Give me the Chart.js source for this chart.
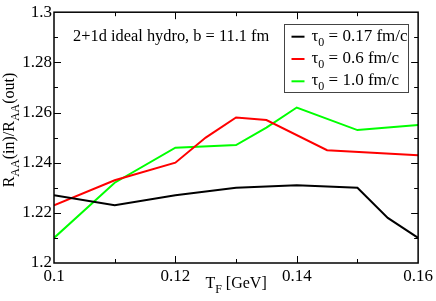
<!DOCTYPE html>
<html>
<head>
<meta charset="utf-8">
<script src="https://cdn.jsdelivr.net/npm/chart.js@4"></script>
<style>
  html, body { margin: 0; padding: 0; background: #fff; }
  #wrap { width: 436px; height: 301px; }
</style>
</head>
<body>
<div id="wrap"><canvas id="chart" width="436" height="301"></canvas></div>
<script>
// data
const tempBlack = [0.10, 0.11, 0.12, 0.13, 0.14, 0.15, 0.155, 0.16]
const ratioBlack = [1.227, 1.223, 1.227, 1.230, 1.231, 1.230, 1.218, 1.210]

const tempRed = [0.10, 0.11, 0.12, 0.125, 0.13, 0.135, 0.145, 0.16]
const ratioRed = [1.223, 1.233, 1.240, 1.250, 1.258, 1.257, 1.245, 1.243]

const tempGreen = [0.10, 0.11, 0.12, 0.13, 0.135, 0.14, 0.15, 0.16]
const ratioGreen = [1.210, 1.232, 1.246, 1.247, 1.254, 1.262, 1.253, 1.255]

const seriesTau = ["0.17", "0.6", "1.0"]
const seriesColors = ["#000000", "#ff0000", "#00ff00"]

const xTicks = [0.10, 0.12, 0.14, 0.16]
const yTicks = [1.20, 1.22, 1.24, 1.26, 1.28, 1.30]

const FONT = "'Liberation Serif', 'Times New Roman', serif"

function toPoints(xs, ys) {
  return xs.map((x, i) => ({ x: x, y: ys[i] }))
}

// draw text made of pieces, some of them subscripts
function drawRich(ctx, parts, x, y, size, align) {
  const subSize = Math.round(size * 0.72)
  let total = 0
  parts.forEach(p => {
    ctx.font = (p.sub ? subSize : size) + "px " + FONT
    p.w = ctx.measureText(p.t).width
    total += p.w
  })
  let cx = align === "center" ? x - total / 2 : x
  parts.forEach(p => {
    ctx.font = (p.sub ? subSize : size) + "px " + FONT
    ctx.fillText(p.t, cx, p.sub ? y + size * 0.3 : y)
    cx += p.w
  })
}

const decorPlugin = {
  id: "decor",
  afterDraw(chart) {
    const ctx = chart.ctx
    const a = chart.chartArea
    const xs = chart.scales.x
    const ys = chart.scales.y
    ctx.save()

    // inward tick marks on all four sides
    ctx.strokeStyle = "#000"
    ctx.lineWidth = 1
    ctx.beginPath()
    for (let i = 1; i < 10; i++) {
      const py = Math.round(ys.getPixelForValue(1.2 + i * 0.01)) + 0.5
      const len = i % 2 === 0 ? 7 : 4
      ctx.moveTo(a.left, py); ctx.lineTo(a.left + len, py)
      ctx.moveTo(a.right, py); ctx.lineTo(a.right - len, py)
    }
    for (let i = 1; i < 6; i++) {
      const px = Math.round(xs.getPixelForValue(0.1 + i * 0.01)) + 0.5
      const len = i % 2 === 0 ? 7 : 4
      ctx.moveTo(px, a.bottom); ctx.lineTo(px, a.bottom - len)
      ctx.moveTo(px, a.top); ctx.lineTo(px, a.top + len)
    }
    ctx.stroke()

    // frame
    ctx.lineWidth = 1.5
    ctx.strokeRect(a.left, a.top, a.right - a.left, a.bottom - a.top)

    ctx.fillStyle = "#000"
    ctx.textBaseline = "alphabetic"

    // annotation
    ctx.font = "16.4px " + FONT
    ctx.textAlign = "left"
    ctx.fillText("2+1d ideal hydro, b = 11.1 fm", 73, 41)

    // legend
    const lx = 284.5, ly = 24.5, lw = 124, lh = 68
    ctx.lineWidth = 1
    ctx.strokeStyle = "#444"
    ctx.strokeRect(lx, ly, lw, lh)
    chart.data.datasets.forEach((ds, i) => {
      const cy = 36.7 + i * 22.3
      ctx.strokeStyle = ds.borderColor
      ctx.lineWidth = 2
      ctx.beginPath()
      ctx.moveTo(291.5, cy); ctx.lineTo(304.5, cy)
      ctx.stroke()
      ctx.fillStyle = "#000"
      drawRich(ctx, [
        { t: "\u03c4" },
        { t: "0", sub: true },
        { t: " = " + seriesTau[i] + " fm/c" }
      ], 311.5, cy + 4, 17, "left")
    })

    // axis titles
    ctx.fillStyle = "#000"
    drawRich(ctx, [
      { t: "T" }, { t: "F", sub: true }, { t: " [GeV]" }
    ], (a.left + a.right) / 2, 288, 16, "center")

    ctx.translate(14, 130)
    ctx.rotate(-Math.PI / 2)
    drawRich(ctx, [
      { t: "R" }, { t: "AA", sub: true }, { t: "(in)/R" },
      { t: "AA", sub: true }, { t: "(out)" }
    ], 0, 0, 16, "center")

    ctx.restore()
  }
}

const datasets = [
  toPoints(tempBlack, ratioBlack),
  toPoints(tempRed, ratioRed),
  toPoints(tempGreen, ratioGreen)
].map((pts, i) => ({
  label: "\u03c4\u2080 = " + seriesTau[i] + " fm/c",
  data: pts,
  borderColor: seriesColors[i],
  borderWidth: 2,
  pointRadius: 0,
  tension: 0,
  fill: false
}))

new Chart(document.getElementById("chart"), {
  type: "line",
  data: { datasets: datasets },
  options: {
    responsive: false,
    animation: false,
    devicePixelRatio: 1,
    layout: { padding: { top: 7, right: 16, left: 0, bottom: 0 } },
    plugins: {
      legend: { display: false },
      tooltip: { enabled: false }
    },
    scales: {
      x: {
        type: "linear",
        min: 0.1,
        max: 0.16,
        afterBuildTicks: (scale) => { scale.ticks = xTicks.map(v => ({ value: v })) },
        afterFit: (scale) => { scale.height = 38 },
        grid: { display: false, drawTicks: false },
        border: { display: false },
        ticks: {
          padding: 3,
          color: "#000",
          font: { family: FONT, size: 17 },
          maxRotation: 0,
          callback: (v) => String(+v.toFixed(2))
        }
      },
      y: {
        type: "linear",
        min: 1.2,
        max: 1.3,
        afterBuildTicks: (scale) => { scale.ticks = yTicks.map(v => ({ value: v })) },
        afterFit: (scale) => { scale.width = 54 },
        grid: { display: false, drawTicks: false },
        border: { display: false },
        ticks: {
          padding: 2,
          color: "#000",
          font: { family: FONT, size: 17 },
          callback: (v) => String(+v.toFixed(2))
        }
      }
    }
  },
  plugins: [decorPlugin]
})
</script>
</body>
</html>
